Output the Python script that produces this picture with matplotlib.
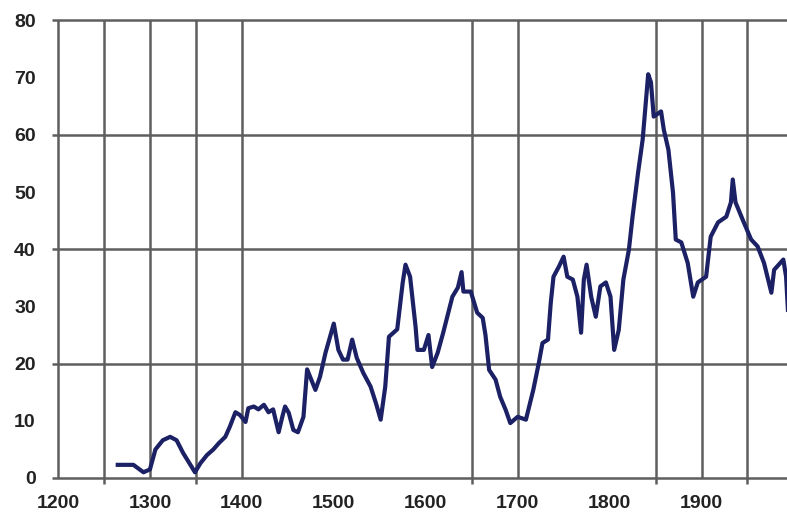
import matplotlib
matplotlib.use('Agg')
import matplotlib.pyplot as plt

# values
years = [1265, 1282, 1293, 1300, 1306, 1314, 1322, 1329, 1336, 1344, 1349, 1355,
         1362, 1369, 1375, 1382, 1387, 1393, 1398, 1404, 1407, 1413, 1418, 1424,
         1429, 1434, 1440, 1444, 1447, 1451, 1456, 1461, 1467, 1471, 1476, 1480,
         1485, 1491, 1500, 1505, 1510, 1515, 1520, 1525, 1532, 1540, 1546, 1551,
         1556, 1560, 1569, 1575, 1578, 1583, 1589, 1591, 1598, 1603, 1607, 1613,
         1619, 1629, 1635, 1639, 1641, 1649, 1656, 1662, 1665, 1669, 1676, 1681,
         1687, 1692, 1700, 1709, 1717, 1723, 1727, 1733, 1736, 1739, 1745, 1750,
         1754, 1760, 1765, 1769, 1772, 1775, 1780, 1785, 1790, 1796, 1801, 1805,
         1810, 1815, 1821, 1825, 1831, 1836, 1842, 1845, 1848, 1856, 1859, 1864,
         1869, 1872, 1878, 1885, 1891, 1896, 1905, 1910, 1918, 1927, 1932, 1934,
         1937, 1946, 1954, 1961, 1968, 1976, 1979, 1989, 1992, 1994]
values = [2.3, 2.3, 1.0, 1.5, 5.0, 6.6, 7.2, 6.6, 4.4, 2.3, 1.0, 2.6,
          4.0, 5.0, 6.1, 7.2, 9.0, 11.5, 11.0, 9.8, 12.2, 12.5, 12.0, 12.8,
          11.5, 12.0, 8.0, 10.7, 12.5, 11.4, 8.4, 8.0, 10.7, 19.0, 17.0, 15.4,
          17.7, 21.9, 27.0, 22.4, 20.7, 20.7, 24.2, 21.0, 18.4, 16.0, 13.0, 10.2,
          16.0, 24.7, 26.0, 34.2, 37.3, 35.2, 26.4, 22.4, 22.4, 25.0, 19.4, 21.9,
          25.4, 31.7, 33.3, 36.0, 32.6, 32.6, 28.9, 28.0, 25.0, 18.9, 17.2, 14.2,
          11.9, 9.6, 10.7, 10.2, 15.4, 20.1, 23.6, 24.2, 30.6, 35.2, 37.0, 38.7,
          35.2, 34.7, 31.7, 25.4, 34.7, 37.3, 31.7, 28.2, 33.5, 34.2, 31.7, 22.4,
          25.9, 34.7, 39.9, 45.7, 53.4, 59.2, 70.6, 69.2, 63.2, 64.1, 60.9, 57.4,
          49.9, 41.7, 41.2, 37.6, 31.7, 34.2, 35.2, 42.2, 44.7, 45.7, 48.2, 52.2,
          48.2, 44.7, 41.7, 40.5, 37.6, 32.4, 36.4, 38.2, 35.2, 29.4]

x_labels = [1200, 1300, 1400, 1500, 1600, 1700, 1800, 1900]
y_labels = [0, 10, 20, 30, 40, 50, 60, 70, 80]
h_lines = [0, 20, 40, 60, 80]
v_lines = [1200, 1250, 1300, 1350, 1400, 1650, 1700, 1850, 1900, 1950]
v_ticks = [1250, 1350, 1650, 1850, 1950]

grid_col = '#5e5e5e'

fig = plt.figure(figsize=(7.87, 5.17), dpi=100)
ax = fig.add_axes([58 / 787, 39 / 517, 729 / 787, 457.5 / 517])
ax.set_xlim(1200, 1993)
ax.set_ylim(0, 80)
for s in ax.spines.values():
    s.set_visible(False)

# grid lines (with the little overhang on the left / below)
ax.hlines(h_lines, 1193.5, 1993, color=grid_col, lw=1.8, clip_on=False, zorder=1)
ax.vlines(v_lines, 0, 80, color=grid_col, lw=1.8, clip_on=False, zorder=1)
ax.vlines(v_ticks, -1.1, 0, color=grid_col, lw=1.8, clip_on=False, zorder=1)

ax.plot(years, values, color='#1b2164', lw=3.0, zorder=3, solid_joinstyle='round')

ax.set_xticks(x_labels)
ax.set_xticklabels([str(v) for v in x_labels])
ax.set_yticks(y_labels)
ax.set_yticklabels([str(v) for v in y_labels])
ax.tick_params(axis='x', length=0, pad=12)
ax.tick_params(axis='y', length=0, pad=16)
for lab in ax.get_xticklabels() + ax.get_yticklabels():
    lab.set_fontfamily('Liberation Sans')
    lab.set_fontweight('bold')
    lab.set_fontsize(14)
    lab.set_color('#222222')

fig.savefig('out.png', dpi=100)
